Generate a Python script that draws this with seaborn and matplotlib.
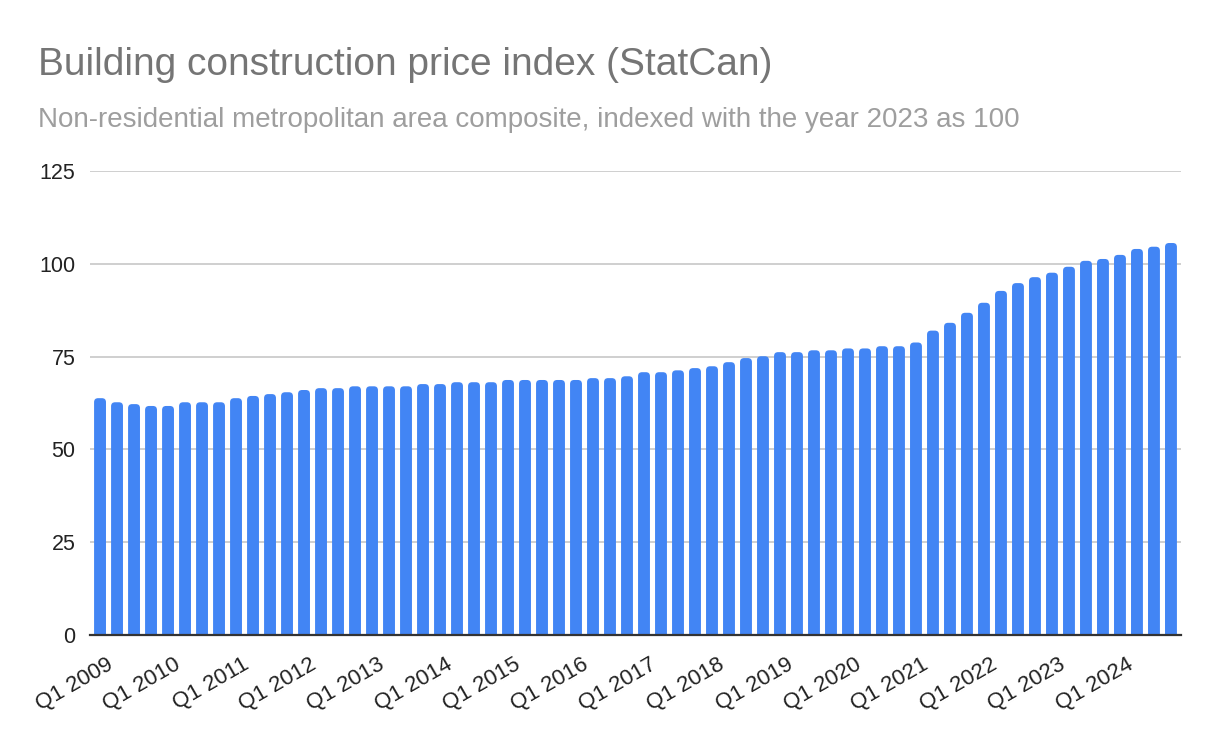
import pandas as pd
import numpy as np
import matplotlib
matplotlib.use('Agg')
import matplotlib.pyplot as plt
import matplotlib.transforms as mtransforms
from matplotlib.patches import FancyBboxPatch
import seaborn as sns

# quarterly index values, Q1 2009 .. Q4 2024 (2023 = 100)
years = list(range(2009, 2025))
quarters = [f"Q{q} {y}" for y in years for q in range(1, 5)]
index_values = [
    63.8, 62.7, 62.2, 61.7,   # 2009
    61.7, 62.7, 62.7, 62.7,   # 2010
    63.8, 64.4, 64.9, 65.4,   # 2011
    66.0, 66.5, 66.5, 67.0,   # 2012
    67.0, 67.0, 67.0, 67.6,   # 2013
    67.6, 68.1, 68.1, 68.1,   # 2014
    68.7, 68.7, 68.7, 68.7,   # 2015
    68.7, 69.2, 69.2, 69.7,   # 2016
    70.8, 70.8, 71.3, 71.9,   # 2017
    72.4, 73.5, 74.6, 75.1,   # 2018
    76.2, 76.2, 76.7, 76.7,   # 2019
    77.2, 77.2, 77.8, 77.8,   # 2020
    78.8, 82.0, 84.1, 86.8,   # 2021
    89.5, 92.7, 94.8, 96.4,   # 2022
    97.6, 99.2, 100.8, 101.3, # 2023
    102.4, 104.0, 104.6, 105.6,  # 2024
]
tick_labels = [f"Q1 {y}" for y in years]
y_ticks = [0, 25, 50, 75, 100, 125]

df = pd.DataFrame({'quarter': quarters, 'index': index_values})

sns.set_theme(style="white")
plt.rcParams['font.family'] = ['Liberation Sans', 'DejaVu Sans']

fig = plt.figure(figsize=(12.18, 7.42), dpi=100)
ax = fig.add_axes([90 / 1218, 107 / 742, 1091 / 1218, 464 / 742])

bar_color = '#4285F4'
sns.barplot(data=df, x='quarter', y='index', color=bar_color, saturation=1,
            width=0.7, ax=ax, zorder=3)

ax.set_xlim(-0.59, len(quarters) - 1 + 0.59)
ax.set_ylim(0, 125)

# round the bar tops like the original (bottom corners hidden below the axis)
r_x = 0.235
aspect = 4.57
for p in list(ax.patches):
    x, w, h = p.get_x(), p.get_width(), p.get_height()
    off = r_x * aspect
    rb = FancyBboxPatch((x, -off), w, h + off,
                        boxstyle=f"round,pad=0,rounding_size={r_x}",
                        mutation_aspect=aspect, facecolor=bar_color,
                        edgecolor='none', zorder=3, clip_on=True)
    p.remove()
    ax.add_patch(rb)

ax.set_xlabel('')
ax.set_ylabel('')
ax.set_yticks(y_ticks)
ax.set_yticklabels([str(v) for v in y_ticks])
ax.set_xticks([quarters.index(t) for t in tick_labels])
ax.set_xticklabels(tick_labels, rotation=30, ha='right', rotation_mode='anchor')
ax.tick_params(axis='y', length=0, pad=10.5, labelsize=15.5, labelcolor='#222222')
ax.tick_params(axis='x', length=0, pad=13.5, labelsize=16, labelcolor='#222222')

shift = mtransforms.ScaledTranslation(6 / 100, 0, fig.dpi_scale_trans)
for lab in ax.get_xticklabels():
    lab.set_transform(lab.get_transform() + shift)

ax.yaxis.grid(True, color='#cccccc', linewidth=1.3, zorder=0)
ax.set_axisbelow(True)
for side in ['top', 'right', 'left']:
    ax.spines[side].set_visible(False)
ax.spines['bottom'].set_color('#333333')
ax.spines['bottom'].set_linewidth(1.6)
ax.spines['bottom'].set_zorder(4)

fig.text(38 / 1218, 1 - 75 / 742, 'Building construction price index (StatCan)',
         fontsize=28, color='#757575', va='baseline', ha='left')
fig.text(38 / 1218, 1 - 127 / 742,
         'Non-residential metropolitan area composite, indexed with the year 2023 as 100',
         fontsize=20, color='#9e9e9e', va='baseline', ha='left')

fig.savefig('out.png', dpi=100)
plt.close(fig)
